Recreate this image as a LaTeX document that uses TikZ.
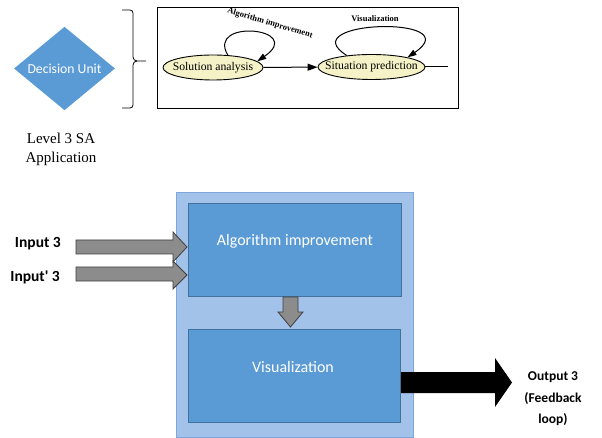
\documentclass[tikz,border=0pt]{standalone}
\usepackage{fontspec}
\setmainfont{Liberation Serif}
\newfontfamily\calibri{Carlito}
\usetikzlibrary{shapes.geometric,arrows.meta}
\definecolor{officeblue}{HTML}{5B9BD5}
\definecolor{officeborder}{HTML}{41719C}
\definecolor{lightblue}{HTML}{A3C2E9}
\definecolor{lightborder}{HTML}{7EA6DA}
\definecolor{ellfill}{HTML}{F4F2C6}
\definecolor{arrowgray}{HTML}{8C8C8C}
\definecolor{arrowedge}{HTML}{3F3F3F}
\tikzset{
  ellnode/.style={ellipse, draw=black, line width=0.9pt, fill=ellfill, inner xsep=-9pt, inner ysep=0pt,
    minimum height=25pt, font=\fontsize{11.7}{13}\selectfont},
  looplabel/.style={font=\bfseries\fontsize{8.5}{10}\selectfont, inner sep=0pt},
  loopline/.style={line width=1pt, -{Triangle[length=9pt,width=6pt]}},
  innerbox/.style={draw=officeborder, fill=officeblue, line width=0.6pt},
  boxtext/.style={text=white, font=\calibri\fontsize{16}{19}\selectfont},
  grayarrow/.style={fill=arrowgray, draw=arrowedge, line width=0.8pt},
  sidelabel/.style={font=\calibri\bfseries\fontsize{15.5}{18}\selectfont, inner sep=0pt},
}
\begin{document}
\begin{tikzpicture}[x=1pt,y=-1pt]
\useasboundingbox (0,0) rectangle (602,438);

% ---------- top part ----------
\node (du) [diamond, fill=officeblue, inner sep=0pt, minimum width=101pt, minimum height=83pt,
  text=white, font=\calibri\fontsize{13.7}{15}\selectfont] at (64.5,68.5) {Decision Unit};
\node (lvl) [align=center, font=\fontsize{15}{19}\selectfont] at (61,149) {Level 3 SA\\Application};

% brace
\draw[line width=0.8pt, line join=round] (122,10) -- (130,10) to[out=0,in=90] (133,13) -- (133,57)
  to[out=-90,in=180] (137,61) -- (146,61);
\draw[line width=0.8pt, line join=round] (122,108) -- (130,108) to[out=0,in=-90] (133,105) -- (133,65)
  to[out=90,in=180] (137,61);

% frame
\node (frame) [draw=black, line width=0.8pt, minimum width=301pt, minimum height=101pt, inner sep=0pt]
  at (307.5,57.5) {};

\node (sa) [ellnode, minimum width=100pt] at (213,67.5) {Solution analysis};
\node (sp) [ellnode, minimum width=107pt] at (371.5,67) {Situation prediction};
\coordinate (spout) at (448,67);

\draw[line width=1pt, -{Triangle[length=10pt,width=7pt]}] (sa) -- (sp);
\draw[line width=1pt] (sp.east) -- (spout);

\draw[loopline] (sa.40) .. controls (206,18) and (306,28) .. (sa.8);
\draw[loopline] (sp.155) .. controls (290,20) and (470,15) .. (sp.15);

\node (lab1) [looplabel, rotate=-16.6] at (270,23.5) {Algorithm improvement};
\node (lab2) [looplabel] at (375,19) {Visualization};

% ---------- bottom part ----------
\node (outer) [draw=lightborder, fill=lightblue, line width=0.8pt, minimum width=237pt,
  minimum height=245pt, inner sep=0pt] at (294.5,314.5) {};
\node (alg) [innerbox, minimum width=213pt, minimum height=93pt, inner sep=0pt] at (294.5,249.5) {};
\node (algt) [boxtext] at (295,241) {Algorithm improvement};
\node (vis) [innerbox, minimum width=212pt, minimum height=93pt, inner sep=0pt] at (294,375.5) {};
\node (vist) [boxtext] at (293,367) {Visualization};

% down arrow between boxes
\path[grayarrow] (283,297) -- (298,297) -- (298,312) -- (303,312) -- (290.5,327) -- (278,312)
  -- (283,312) -- cycle;

% input arrows
\node (in1) [sidelabel, anchor=east] at (61,244) {Input 3};
\node (in2) [sidelabel, anchor=east] at (60,277) {Input' 3};
\path[grayarrow] (76,240) -- (173,240) -- (173,232) -- (187,247) -- (173,262) -- (173,254)
  -- (76,254) -- cycle;
\path[grayarrow] (76,267) -- (173,267) -- (173,261) -- (187,275) -- (173,289) -- (173,281)
  -- (76,281) -- cycle;

% output arrow
\path[fill=black] (401,372) -- (495,372) -- (495,358) -- (512,382.5) -- (495,407) -- (495,393)
  -- (401,393) -- cycle;
\node (out) [align=center, font=\calibri\bfseries\fontsize{13.5}{21.5}\selectfont] at (553,399)
  {Output 3\\(Feedback\\loop)};
\end{tikzpicture}
\end{document}
